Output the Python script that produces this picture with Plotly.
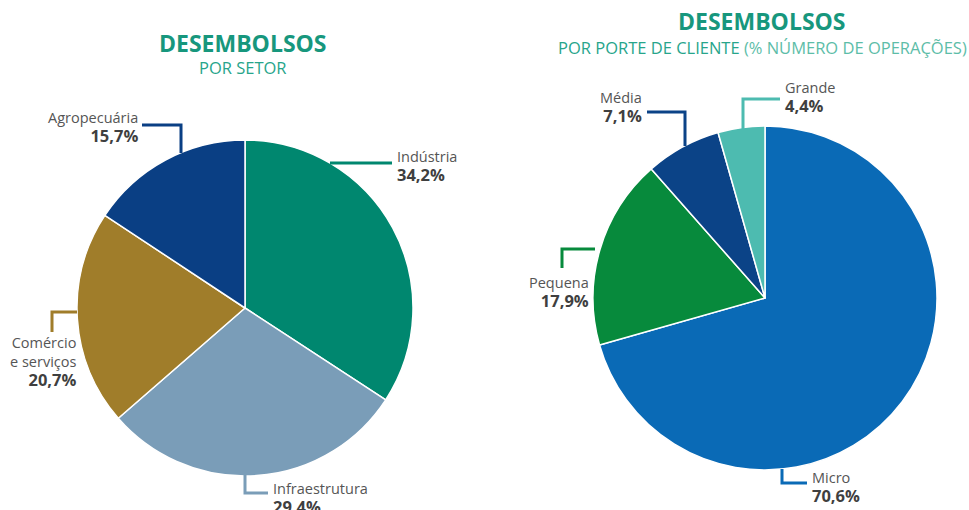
import plotly.graph_objects as go

W, H = 969, 510

# ---- data ----
setor_labels = ["Indústria", "Infraestrutura", "Comércio<br>e serviços", "Agropecuária"]
setor_values = [34.2, 29.4, 20.7, 15.7]
setor_colors = ["#00876f", "#7a9db8", "#a07d2a", "#0a3f84"]

porte_labels = ["Micro", "Pequena", "Média", "Grande"]
porte_values = [70.6, 17.9, 7.1, 4.4]
porte_colors = ["#0a6ab6", "#078a3c", "#0b4387", "#4dbbb0"]

# ---- layout styling (pixel geometry) ----
def px(x):
    return x / W

def py(y):
    return 1 - y / H

left_c, left_r = (245, 308), 168
right_c, right_r = (765, 298), 172

def domain(c, r):
    return dict(x=[px(c[0] - r), px(c[0] + r)], y=[py(c[1] + r), py(c[1] - r)])

fig = go.Figure()
fig.add_trace(go.Pie(labels=setor_labels, values=setor_values, sort=False,
                     direction="clockwise", rotation=0, textinfo="none",
                     hoverinfo="label+percent",
                     marker=dict(colors=setor_colors, line=dict(color="white", width=1.5)),
                     domain=domain(left_c, left_r), showlegend=False))
fig.add_trace(go.Pie(labels=porte_labels, values=porte_values, sort=False,
                     direction="clockwise", rotation=0, textinfo="none",
                     hoverinfo="label+percent",
                     marker=dict(colors=porte_colors, line=dict(color="white", width=1.5)),
                     domain=domain(right_c, right_r), showlegend=False))

def pct(v):
    return f"{v:.1f}".replace(".", ",") + "%"

# leader lines (polyline points in pixels) and label placement
leaders = [
    # (series, index, points, label x, label y center, align)
    ("s", 0, [(330, 163), (392, 163)], 395, 167, "left"),
    ("s", 1, [(245, 475), (245, 493), (268, 493)], 271, 498, "left"),
    ("s", 2, [(77, 312), (52, 312), (52, 332)], 79, 362, "right"),
    ("s", 3, [(142, 125), (181, 125), (181, 153)], 140, 127, "right"),
    ("p", 0, [(782, 469), (782, 483), (807, 483)], 810, 487, "left"),
    ("p", 1, [(595, 249), (562, 249), (562, 268)], 591, 292, "right"),
    ("p", 2, [(647, 112), (685, 112), (685, 146)], 644, 107, "right"),
    ("p", 3, [(743, 130), (743, 99), (780, 99)], 783, 98, "left"),
]

shapes = []
annotations = []
for ser, i, pts, lx, ly, al in leaders:
    if ser == "s":
        name, val, col = setor_labels[i], setor_values[i], setor_colors[i]
    else:
        name, val, col = porte_labels[i], porte_values[i], porte_colors[i]
    path = "M " + " L ".join(f"{px(x)},{py(y)}" for x, y in pts)
    shapes.append(dict(type="path", path=path, xref="paper", yref="paper",
                       line=dict(color=col, width=3)))
    annotations.append(dict(
        x=px(lx), y=py(ly), xref="paper", yref="paper",
        xanchor="left" if al == "left" else "right", yanchor="middle",
        align=al, showarrow=False,
        text=f"{name}<br><span style='font-size:16.5px;color:#3f3f3f'><b>{pct(val)}</b></span>",
        font=dict(family="Open Sans", size=14.5, color="#555555")))

title_col = "#17977d"
sub_col = "#27a58b"
light_col = "#5dbda8"
annotations += [
    dict(x=px(243), y=py(43), xref="paper", yref="paper", showarrow=False,
         xanchor="center", yanchor="middle", text="<b>DESEMBOLSOS</b>",
         font=dict(family="Open Sans", size=23, color=title_col)),
    dict(x=px(243), y=py(68), xref="paper", yref="paper", showarrow=False,
         xanchor="center", yanchor="middle", text="POR SETOR",
         font=dict(family="Open Sans", size=16.5, color=sub_col)),
    dict(x=px(762), y=py(21), xref="paper", yref="paper", showarrow=False,
         xanchor="center", yanchor="middle", text="<b>DESEMBOLSOS</b>",
         font=dict(family="Open Sans", size=23, color=title_col)),
    dict(x=px(762), y=py(47), xref="paper", yref="paper", showarrow=False,
         xanchor="center", yanchor="middle",
         text=f"POR PORTE DE CLIENTE <span style='color:{light_col}'>(% NÚMERO DE OPERAÇÕES)</span>",
         font=dict(family="Open Sans", size=16.5, color=sub_col)),
]

fig.update_layout(width=W, height=H, margin=dict(l=0, r=0, t=0, b=0),
                  paper_bgcolor="white", plot_bgcolor="white",
                  shapes=shapes, annotations=annotations,
                  font=dict(family="Open Sans"))

fig.write_html("out.html", config={"displayModeBar": False},
               post_script="document.body.style.margin='0';")
